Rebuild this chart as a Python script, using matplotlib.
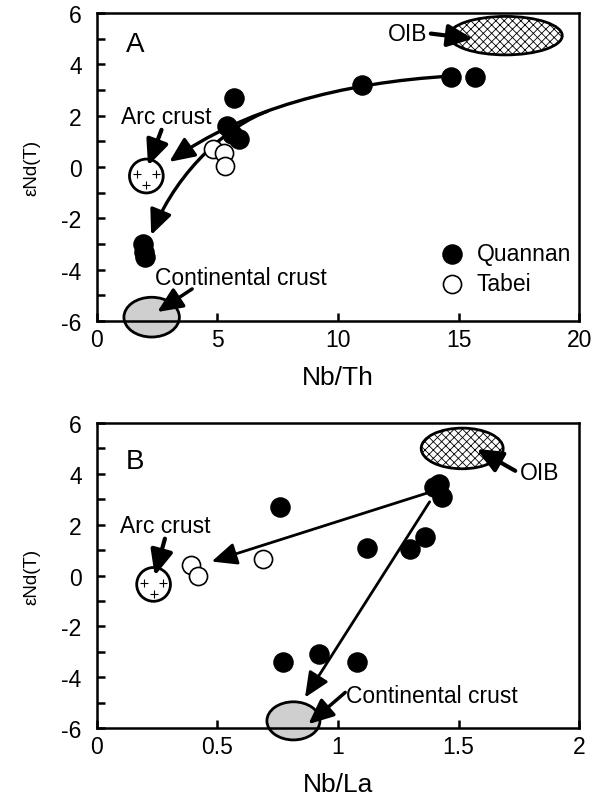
import numpy as np
import matplotlib
matplotlib.use('Agg')
import matplotlib.pyplot as plt
from matplotlib.patches import Ellipse, FancyArrowPatch
from matplotlib.path import Path

plt.rcParams['font.family'] = ['Liberation Sans', 'DejaVu Sans']
plt.rcParams['axes.unicode_minus'] = False
plt.rcParams['hatch.linewidth'] = 0.6

# panel A : Nb/Th vs eNd(T)
qa_x = [14.7, 15.7, 11.0, 5.7, 5.4, 5.6, 5.9, 1.9, 2.0, 1.95]
qa_y = [3.5, 3.5, 3.2, 2.7, 1.6, 1.3, 1.1, -3.0, -3.5, -3.3]
ta_x = [4.8, 5.25, 5.3]
ta_y = [0.7, 0.55, 0.05]

# panel B : Nb/La vs eNd(T)
qb_x = [1.40, 1.42, 1.43, 0.76, 1.12, 1.30, 1.36, 0.77, 0.92, 1.08]
qb_y = [3.5, 3.6, 3.1, 2.7, 1.1, 1.05, 1.5, -3.4, -3.1, -3.4]
tb_x = [0.69, 0.39, 0.42]
tb_y = [0.65, 0.42, 0.0]

# end-member fields: (cx, cy, w, h)
arc_a = (2.05, -0.35, 1.4, 1.32)
cc_a = (2.27, -5.85, 2.3, 1.55)
oib_a = (16.95, 5.12, 4.7, 1.5)
arc_b = (0.235, -0.35, 0.14, 1.33)
cc_b = (0.815, -5.72, 0.22, 1.5)
oib_b = (1.515, 5.0, 0.34, 1.6)

yticks = [-6, -4, -2, 0, 2, 4, 6]
TXT = 16.5


def field(ax, f, fc, hatch=None):
    e = Ellipse((f[0], f[1]), f[2], f[3], facecolor=fc, edgecolor='black',
                lw=2, hatch=hatch, clip_on=False, zorder=2)
    ax.add_patch(e)


def arc_field(ax, f):
    field(ax, f, 'white')
    dx, dy = f[2] / 2, f[3] / 2
    px = [f[0] - 0.55 * dx, f[0] + 0.55 * dx, f[0]]
    py = [f[1] + 0.1 * dy, f[1] + 0.1 * dy, f[1] - 0.55 * dy]
    ax.scatter(px, py, marker='+', s=30, c='black', lw=0.8, zorder=3)


def arrow(ax, start, end, lw=2):
    a = FancyArrowPatch(start, end, arrowstyle='-|>,head_length=0.9,head_width=0.4',
                        mutation_scale=17, lw=lw, color='black', shrinkA=0, shrinkB=0,
                        zorder=4, clip_on=False)
    ax.add_patch(a)


def curve(ax, pts, lw=2.4):
    path = Path(pts, [Path.MOVETO, Path.CURVE4, Path.CURVE4, Path.CURVE4])
    a = FancyArrowPatch(path=path, arrowstyle='-|>,head_length=0.9,head_width=0.4',
                        mutation_scale=17, lw=lw, color='black', zorder=1.5)
    ax.add_patch(a)


def style(ax, xlim, xticks, xlabels):
    ax.set_xlim(xlim)
    ax.set_ylim(-6, 6)
    ax.set_xticks(xticks)
    ax.set_xticklabels(xlabels)
    ax.set_yticks(yticks)
    ax.set_yticks(range(-5, 6, 2), minor=True)
    ax.tick_params(axis='both', which='both', direction='in', length=6, width=1.8,
                   labelsize=TXT)
    ax.tick_params(axis='y', pad=11)
    ax.tick_params(axis='x', pad=5)
    for s in ax.spines.values():
        s.set_linewidth(1.8)
    ax.set_ylabel('\u03b5Nd(T)', fontsize=13.5, labelpad=15)


fig = plt.figure(figsize=(6.02, 8.04), dpi=100)
ax1 = fig.add_axes([0.161, 0.5995, 0.801, 0.383])
ax2 = fig.add_axes([0.161, 0.0933, 0.801, 0.3793])

# ---- A
curve(ax1, [(14.8, 3.55), (10.0, 3.3), (6.0, 2.2), (3.0, 0.2)])
curve(ax1, [(7.07, 2.17), (5.57, 1.66), (3.4, 0.0), (2.25, -2.65)])
field(ax1, cc_a, '#cfcfcf')
field(ax1, oib_a, 'white', hatch='xxxx')
arc_field(ax1, arc_a)
ax1.scatter(qa_x, qa_y, s=190, c='black', zorder=5, label='Quannan')
ax1.scatter(ta_x, ta_y, s=170, facecolors='white', edgecolors='black', lw=1.2,
            zorder=5, label='Tabei')

ax1.text(1.2, 4.8, 'A', fontsize=20, va='center')
ax1.text(12.05, 5.2, 'OIB', fontsize=TXT, va='center')
arrow(ax1, (13.85, 5.2), (15.6, 5.0), lw=3)
ax1.text(1.0, 1.95, 'Arc crust', fontsize=TXT, va='center')
arrow(ax1, (2.68, 1.45), (2.12, 0.05), lw=3)
ax1.text(2.4, -4.3, 'Continental crust', fontsize=TXT, va='center')
arrow(ax1, (3.95, -4.75), (2.5, -5.65), lw=2.5)

style(ax1, (0, 20), [0, 5, 10, 15, 20], ['0', '5', '10', '15', '20'])
ax1.set_xlabel('Nb/Th', fontsize=19, labelpad=10)
ax1.legend(loc='lower right', bbox_to_anchor=(1.012, 0.04), frameon=False, fontsize=TXT,
           handletextpad=0.1, labelspacing=0.3, borderaxespad=0.2, markerscale=1.0)

# ---- B
arrow(ax2, (1.368, 3.24), (0.476, 0.55), lw=2)
arrow(ax2, (1.38, 2.9), (0.863, -4.8), lw=2)
field(ax2, cc_b, '#cfcfcf')
field(ax2, oib_b, 'white', hatch='xxxx')
arc_field(ax2, arc_b)
ax2.scatter(qb_x, qb_y, s=190, c='black', zorder=5)
ax2.scatter(tb_x, tb_y, s=170, facecolors='white', edgecolors='black', lw=1.2, zorder=5)

ax2.text(0.12, 4.5, 'B', fontsize=20, va='center')
ax2.text(1.755, 4.05, 'OIB', fontsize=TXT, va='center')
arrow(ax2, (1.735, 4.12), (1.575, 4.98), lw=3)
ax2.text(0.095, 1.98, 'Arc crust', fontsize=TXT, va='center')
arrow(ax2, (0.282, 1.45), (0.24, -0.01), lw=3)
ax2.text(1.035, -4.73, 'Continental crust', fontsize=TXT, va='center')
arrow(ax2, (1.03, -4.6), (0.877, -5.85), lw=2.5)

style(ax2, (0, 2), [0, 0.5, 1, 1.5, 2], ['0', '0.5', '1', '1.5', '2'])
ax2.set_xlabel('Nb/La', fontsize=19, labelpad=10)

fig.savefig('out.png', dpi=100)
